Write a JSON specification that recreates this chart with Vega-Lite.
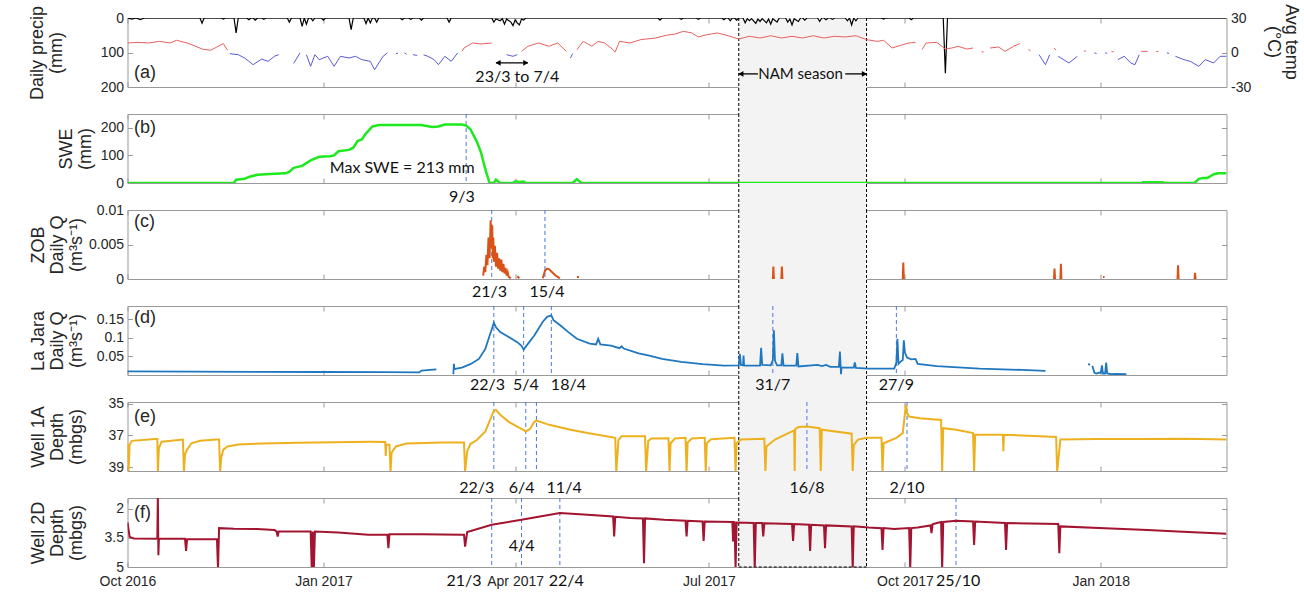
{
"$schema": "https://vega.github.io/schema/vega-lite/v6.json",
"padding": {"left": 27.5, "top": 3, "right": 2, "bottom": 5},
"background": "white",
"config": {
 "view": {"stroke": null},
 "axis": {"tickSize": -5, "tickColor": "#999", "domainColor": "#999", "grid": false, "labelFont": "Liberation Sans", "labelFontSize": 14, "labelColor": "#262626", "titleFont": "Liberation Sans", "titleFontSize": 18, "titleLineHeight": 19, "titleFontWeight": "normal", "titleColor": "#262626", "labelFlush": false, "labelOverlap": false, "labelPadding": 9, "zindex": 1}
},
"spacing": 27,
"bounds": "flush",
"datasets": {
 "nam": [{"t": "2017-07-15", "t2": "2017-09-13"}],
 "namedges": [{"t": "2017-07-15"}, {"t": "2017-09-13"}],
 "events": [
  {"panel": "b", "t": "2017-03-09"},
  {"panel": "c", "t": "2017-03-21"}, {"panel": "c", "t": "2017-04-15"},
  {"panel": "d", "t": "2017-03-22"}, {"panel": "d", "t": "2017-04-05"}, {"panel": "d", "t": "2017-04-18"}, {"panel": "d", "t": "2017-07-31"}, {"panel": "d", "t": "2017-09-27"},
  {"panel": "e", "t": "2017-03-22"}, {"panel": "e", "t": "2017-04-06"}, {"panel": "e", "t": "2017-04-11"}, {"panel": "e", "t": "2017-08-16"}, {"panel": "e", "t": "2017-10-02"},
  {"panel": "f", "t": "2017-03-21"}, {"panel": "f", "t": "2017-04-04"}, {"panel": "f", "t": "2017-04-22"}, {"panel": "f", "t": "2017-10-25"}
 ],
 "labels": [
  {"panel": "b", "t": "2017-03-07", "label": "9/3"},
  {"panel": "c", "t": "2017-03-20", "label": "21/3"}, {"panel": "c", "t": "2017-04-16", "label": "15/4"},
  {"panel": "d", "t": "2017-03-19", "label": "22/3"}, {"panel": "d", "t": "2017-04-06", "label": "5/4"}, {"panel": "d", "t": "2017-04-26", "label": "18/4"}, {"panel": "d", "t": "2017-07-31", "label": "31/7"}, {"panel": "d", "t": "2017-09-27", "label": "27/9"},
  {"panel": "e", "t": "2017-03-14", "label": "22/3"}, {"panel": "e", "t": "2017-04-04", "label": "6/4"}, {"panel": "e", "t": "2017-04-24", "label": "11/4"}, {"panel": "e", "t": "2017-08-16", "label": "16/8"}, {"panel": "e", "t": "2017-10-02", "label": "2/10"},
  {"panel": "f", "t": "2017-03-08", "label": "21/3"}, {"panel": "f", "t": "2017-04-25", "label": "22/4"}, {"panel": "f", "t": "2017-10-26", "label": "25/10"}
 ],
 "precip": [
  {"t":"2016-10-01","p":0},{"t":"2016-10-03","p":3},{"t":"2016-10-05","p":0},{"t":"2016-10-07","p":5},{"t":"2016-10-09","p":0},
  {"t":"2016-11-04","p":0},{"t":"2016-11-05","p":15},{"t":"2016-11-06","p":0},{"t":"2016-11-14","p":0},{"t":"2016-11-15","p":3},{"t":"2016-11-16","p":0},
  {"t":"2016-11-20","p":0},{"t":"2016-11-21","p":43},{"t":"2016-11-22","p":0},{"t":"2016-11-26","p":0},{"t":"2016-11-27","p":5},{"t":"2016-11-28","p":0},
  {"t":"2016-11-29","p":0},{"t":"2016-11-30","p":6},{"t":"2016-12-01","p":0},{"t":"2016-12-03","p":0},{"t":"2016-12-04","p":4},{"t":"2016-12-05","p":0},
  {"t":"2016-12-15","p":0},{"t":"2016-12-16","p":12},{"t":"2016-12-17","p":0},{"t":"2016-12-21","p":0},{"t":"2016-12-22","p":24},{"t":"2016-12-23","p":0},
  {"t":"2016-12-24","p":18},{"t":"2016-12-25","p":0},{"t":"2016-12-26","p":0},{"t":"2016-12-27","p":8},{"t":"2016-12-28","p":0},{"t":"2016-12-31","p":0},
  {"t":"2017-01-01","p":6},{"t":"2017-01-02","p":0},{"t":"2017-01-13","p":0},{"t":"2017-01-14","p":34},{"t":"2017-01-15","p":0},{"t":"2017-01-20","p":0},
  {"t":"2017-01-21","p":16},{"t":"2017-01-22","p":0},{"t":"2017-01-23","p":14},{"t":"2017-01-24","p":0},{"t":"2017-01-25","p":0},{"t":"2017-01-26","p":12},
  {"t":"2017-01-27","p":0},{"t":"2017-02-06","p":0},{"t":"2017-02-07","p":5},{"t":"2017-02-08","p":0},{"t":"2017-02-10","p":0},{"t":"2017-02-11","p":4},
  {"t":"2017-02-12","p":0},{"t":"2017-02-15","p":0},{"t":"2017-02-16","p":6},{"t":"2017-02-17","p":0},{"t":"2017-02-28","p":0},{"t":"2017-03-01","p":12},
  {"t":"2017-03-02","p":0},{"t":"2017-03-21","p":0},{"t":"2017-03-22","p":12},{"t":"2017-03-23","p":3},{"t":"2017-03-25","p":8},{"t":"2017-03-26","p":2},
  {"t":"2017-03-27","p":18},{"t":"2017-03-28","p":3},{"t":"2017-03-30","p":12},{"t":"2017-03-31","p":22},{"t":"2017-04-01","p":5},{"t":"2017-04-02","p":14},
  {"t":"2017-04-03","p":20},{"t":"2017-04-04","p":3},{"t":"2017-04-05","p":6},{"t":"2017-04-06","p":0},{"t":"2017-06-07","p":0},{"t":"2017-06-08","p":6},
  {"t":"2017-06-09","p":0},{"t":"2017-06-17","p":0},{"t":"2017-06-18","p":4},{"t":"2017-06-19","p":0},{"t":"2017-06-25","p":0},{"t":"2017-06-26","p":4},
  {"t":"2017-06-27","p":0},{"t":"2017-07-07","p":0},{"t":"2017-07-08","p":5},{"t":"2017-07-09","p":0},{"t":"2017-07-10","p":0},{"t":"2017-07-11","p":8},
  {"t":"2017-07-12","p":0},{"t":"2017-07-13","p":0},{"t":"2017-07-14","p":6},{"t":"2017-07-15","p":0},{"t":"2017-07-17","p":0},{"t":"2017-07-18","p":14},
  {"t":"2017-07-19","p":2},{"t":"2017-07-20","p":8},{"t":"2017-07-21","p":2},{"t":"2017-07-23","p":16},{"t":"2017-07-24","p":3},{"t":"2017-07-25","p":10},
  {"t":"2017-07-26","p":2},{"t":"2017-07-28","p":14},{"t":"2017-07-29","p":3},{"t":"2017-07-30","p":18},{"t":"2017-07-31","p":2},{"t":"2017-08-02","p":12},
  {"t":"2017-08-03","p":0},{"t":"2017-08-06","p":0},{"t":"2017-08-07","p":12},{"t":"2017-08-08","p":3},{"t":"2017-08-09","p":20},{"t":"2017-08-10","p":2},
  {"t":"2017-08-12","p":10},{"t":"2017-08-13","p":0},{"t":"2017-08-14","p":0},{"t":"2017-08-15","p":6},{"t":"2017-08-16","p":0},{"t":"2017-08-21","p":0},
  {"t":"2017-08-22","p":10},{"t":"2017-08-23","p":0},{"t":"2017-08-24","p":0},{"t":"2017-08-25","p":5},{"t":"2017-08-26","p":0},{"t":"2017-08-27","p":0},
  {"t":"2017-08-28","p":4},{"t":"2017-08-29","p":0},{"t":"2017-09-03","p":0},{"t":"2017-09-04","p":8},{"t":"2017-09-05","p":0},{"t":"2017-09-06","p":20},
  {"t":"2017-09-07","p":0},{"t":"2017-09-08","p":8},{"t":"2017-09-09","p":0},{"t":"2017-09-20","p":0},{"t":"2017-09-21","p":3},{"t":"2017-09-22","p":0},
  {"t":"2017-10-03","p":0},{"t":"2017-10-04","p":5},{"t":"2017-10-05","p":0},{"t":"2017-10-19","p":0},{"t":"2017-10-20","p":160},{"t":"2017-10-21","p":0},
  {"t":"2018-03-01","p":0}
 ],
 "temp": [
  {"t":"2016-10-01","tw":8.3},{"t":"2016-10-06","tw":8.8},{"t":"2016-10-11","tw":8.3},{"t":"2016-10-16","tw":9.7},{"t":"2016-10-21","tw":8.3},
  {"t":"2016-10-24","tw":10.6},{"t":"2016-10-29","tw":8.3},{"t":"2016-11-02","tw":5.4},{"t":"2016-11-05","tw":3.0},{"t":"2016-11-09","tw":1.9},
  {"t":"2016-11-12","tw":4.8},{"t":"2016-11-15","tw":7.7},{"t":"2016-11-17","tw":2.0},{"t":"2016-11-18","tc":-1.0},{"t":"2016-11-22","tc":-1.9},
  {"t":"2016-11-25","tc":-4.8},{"t":"2016-11-29","tc":-10.6},{"t":"2016-12-03","tc":-5.7},{"t":"2016-12-06","tc":-7.7},{"t":"2016-12-09","tc":-3.3},
  {"t":"2016-12-11","tc":-1.9},{"t":"2016-12-14"},{"t":"2016-12-18","tc":-9.5},{"t":"2016-12-21","tc":-0.4},{"t":"2016-12-22"},
  {"t":"2016-12-24","tc":-1.9},{"t":"2016-12-26","tc":-12},{"t":"2016-12-28","tc":-1.9},{"t":"2016-12-30","tc":-6.2},{"t":"2017-01-03","tc":-3.3},
  {"t":"2017-01-06","tc":-12},{"t":"2017-01-09","tc":-3.3},{"t":"2017-01-13","tc":-4.8},{"t":"2017-01-16","tc":-3.3},{"t":"2017-01-19","tc":-6.2},
  {"t":"2017-01-23","tc":-7.7},{"t":"2017-01-25","tc":-15},{"t":"2017-01-29","tc":-3.3},{"t":"2017-01-31","tc":-0.4},{"t":"2017-02-02"},
  {"t":"2017-02-04","tc":-1.0},{"t":"2017-02-05","tc":-0.5},{"t":"2017-02-06"},{"t":"2017-02-08","tc":-0.4},{"t":"2017-02-09","tc":-1.5},{"t":"2017-02-10"},
  {"t":"2017-02-12","tc":-1.9},{"t":"2017-02-14","tc":-2.5},{"t":"2017-02-15"},{"t":"2017-02-17","tc":-2.0},{"t":"2017-02-19","tc":-3.3},
  {"t":"2017-02-22","tc":-6.2},{"t":"2017-02-24","tc":-10.6},{"t":"2017-02-27","tc":-3.3},{"t":"2017-03-02","tc":-7.7},{"t":"2017-03-05","tc":-0.4},
  {"t":"2017-03-07","tw":1.0},{"t":"2017-03-08","tw":3.9},{"t":"2017-03-12","tw":8.3},{"t":"2017-03-16","tw":7.4},{"t":"2017-03-21","tw":8.3},
  {"t":"2017-03-22"},{"t":"2017-03-25","tc":-0.5},{"t":"2017-03-26"},{"t":"2017-03-28","tc":-1.9},{"t":"2017-03-31","tc":-3.3},{"t":"2017-04-02","tc":-1.9},
  {"t":"2017-04-04","tw":1.0},{"t":"2017-04-07","tw":5.4},{"t":"2017-04-12","tw":8.3},{"t":"2017-04-17","tw":5.4},{"t":"2017-04-21","tw":8.3},
  {"t":"2017-04-25","tw":1.0},{"t":"2017-04-27","tc":-4.8},{"t":"2017-04-28","tc":-1.0},{"t":"2017-04-30","tw":2.5},{"t":"2017-05-03","tw":9.7},
  {"t":"2017-05-07","tw":5.4},{"t":"2017-05-10","tw":9.7},{"t":"2017-05-13","tw":8.3},{"t":"2017-05-16","tw":4.0},{"t":"2017-05-18","tw":0.5},
  {"t":"2017-05-20","tw":9.7},{"t":"2017-05-25","tw":8.3},{"t":"2017-05-30","tw":11.2},{"t":"2017-06-06","tw":12.6},{"t":"2017-06-11","tw":15},
  {"t":"2017-06-15","tw":16},{"t":"2017-06-19","tw":18.4},{"t":"2017-06-23","tw":17},{"t":"2017-06-26","tw":13.5},{"t":"2017-06-30","tw":15.5},
  {"t":"2017-07-05","tw":17},{"t":"2017-07-10","tw":14.6},{"t":"2017-07-15","tw":11.7},{"t":"2017-07-20","tw":14.1},{"t":"2017-07-25","tw":12.6},
  {"t":"2017-07-30","tw":14.6},{"t":"2017-08-04","tw":12.6},{"t":"2017-08-09","tw":14.1},{"t":"2017-08-14","tw":12.6},{"t":"2017-08-19","tw":14.6},
  {"t":"2017-08-24","tw":12.6},{"t":"2017-08-29","tw":14.1},{"t":"2017-09-03","tw":13.5},{"t":"2017-09-08","tw":14.6},{"t":"2017-09-13","tw":11.2},
  {"t":"2017-09-18","tw":9.7},{"t":"2017-09-21","tw":10.6},{"t":"2017-09-25","tw":3.9},{"t":"2017-09-30","tw":6.8},{"t":"2017-10-03","tw":8.3},
  {"t":"2017-10-06","tw":8.8},{"t":"2017-10-07"},{"t":"2017-10-09","tw":2.5},{"t":"2017-10-11","tw":8.3},{"t":"2017-10-16","tw":8.8},
  {"t":"2017-10-20","tw":3.0},{"t":"2017-10-23","tw":3.9},{"t":"2017-10-26","tw":5.4},{"t":"2017-10-30","tw":3.0},{"t":"2017-11-02","tw":3.9},
  {"t":"2017-11-04"},{"t":"2017-11-06","tw":0.4},{"t":"2017-11-07","tw":0.6},{"t":"2017-11-08"},{"t":"2017-11-10","tw":3.9},{"t":"2017-11-14","tw":4.8},
  {"t":"2017-11-17","tw":1.0},{"t":"2017-11-21","tw":5.4},{"t":"2017-11-24","tw":7.7},{"t":"2017-11-25"},{"t":"2017-11-28","tw":2.5},{"t":"2017-11-29","tw":1.5},
  {"t":"2017-12-01"},{"t":"2017-12-03","tc":-1.9},{"t":"2017-12-06","tc":-10.6},{"t":"2017-12-08","tc":-1.9},{"t":"2017-12-10","tw":3.9},{"t":"2017-12-11","tw":2.0},
  {"t":"2017-12-12","tc":-3.3},{"t":"2017-12-17","tc":-9.1},{"t":"2017-12-21","tc":-3.3},{"t":"2017-12-24","tw":1.0},{"t":"2017-12-25","tw":1.5},
  {"t":"2017-12-26"},{"t":"2017-12-29","tc":-0.4},{"t":"2017-12-30","tc":-0.8},{"t":"2017-12-31"},{"t":"2018-01-03","tc":-0.4},{"t":"2018-01-04","tc":-0.6},
  {"t":"2018-01-05"},{"t":"2018-01-06","tw":1.0},{"t":"2018-01-07","tw":0.5},{"t":"2018-01-09","tc":-6.2},{"t":"2018-01-12","tc":-3.3},
  {"t":"2018-01-15","tc":-9.1},{"t":"2018-01-17","tc":-10.6},{"t":"2018-01-19","tc":-2.0},{"t":"2018-01-20","tw":1.0},{"t":"2018-01-23","tw":1.0},
  {"t":"2018-01-24"},{"t":"2018-01-27","tw":1.0},{"t":"2018-01-28","tw":0.8},{"t":"2018-01-29"},{"t":"2018-02-01","tc":-0.4},{"t":"2018-02-02","tc":-0.8},
  {"t":"2018-02-03"},{"t":"2018-02-05","tc":-3.3},{"t":"2018-02-09","tc":-6.2},{"t":"2018-02-12","tc":-7.7},{"t":"2018-02-16","tc":-12},
  {"t":"2018-02-19","tc":-6.2},{"t":"2018-02-23","tc":-9.1},{"t":"2018-02-26","tc":-3.3},{"t":"2018-03-01","tc":-3.3}
 ],
 "swe": [
  {"t":"2016-10-01","s":0},{"t":"2016-11-20","s":0},{"t":"2016-11-21","s":12},{"t":"2016-11-25","s":15},{"t":"2016-11-27","s":22},{"t":"2016-12-01","s":30},
  {"t":"2016-12-07","s":33},{"t":"2016-12-14","s":35},{"t":"2016-12-16","s":40},{"t":"2016-12-18","s":55},{"t":"2016-12-22","s":62},{"t":"2016-12-26","s":82},
  {"t":"2016-12-30","s":95},{"t":"2017-01-04","s":97},{"t":"2017-01-06","s":100},{"t":"2017-01-08","s":115},{"t":"2017-01-13","s":120},{"t":"2017-01-15","s":128},
  {"t":"2017-01-17","s":152},{"t":"2017-01-19","s":158},{"t":"2017-01-21","s":180},{"t":"2017-01-24","s":205},{"t":"2017-01-27","s":210},{"t":"2017-02-16","s":210},
  {"t":"2017-02-21","s":203},{"t":"2017-02-24","s":205},{"t":"2017-02-27","s":212},{"t":"2017-03-07","s":212},{"t":"2017-03-09","s":208},{"t":"2017-03-11","s":195},
  {"t":"2017-03-14","s":150},{"t":"2017-03-16","s":110},{"t":"2017-03-18","s":50},{"t":"2017-03-20","s":0},{"t":"2017-03-22","s":0},{"t":"2017-03-23","s":12},
  {"t":"2017-03-25","s":0},{"t":"2017-03-31","s":0},{"t":"2017-04-01","s":6},{"t":"2017-04-03","s":4},{"t":"2017-04-05","s":5},{"t":"2017-04-06","s":0},
  {"t":"2017-04-28","s":0},{"t":"2017-04-30","s":14},{"t":"2017-05-02","s":0},{"t":"2018-01-20","s":0},{"t":"2018-01-21","s":3},{"t":"2018-01-30","s":3},
  {"t":"2018-01-31","s":0},{"t":"2018-02-14","s":0},{"t":"2018-02-16","s":15},{"t":"2018-02-18","s":18},{"t":"2018-02-20","s":18},{"t":"2018-02-23","s":32},
  {"t":"2018-02-25","s":35},{"t":"2018-03-01","s":35}
 ],
 "zob": [
  {"t":"2017-03-17T00:00Z","q":0.0005},{"t":"2017-03-17T12:00Z","q":0.0018},{"t":"2017-03-18T00:00Z","q":0.001},{"t":"2017-03-18T12:00Z","q":0.0035},
  {"t":"2017-03-19T00:00Z","q":0.002},{"t":"2017-03-19T12:00Z","q":0.006},{"t":"2017-03-20T00:00Z","q":0.003},{"t":"2017-03-20T12:00Z","q":0.0085},
  {"t":"2017-03-21T00:00Z","q":0.0045},{"t":"2017-03-21T06:00Z","q":0.0078},{"t":"2017-03-21T12:00Z","q":0.003},{"t":"2017-03-21T18:00Z","q":0.006},
  {"t":"2017-03-22T00:00Z","q":0.0025},{"t":"2017-03-22T12:00Z","q":0.0048},{"t":"2017-03-23T00:00Z","q":0.0018},{"t":"2017-03-23T12:00Z","q":0.0038},
  {"t":"2017-03-24T00:00Z","q":0.0015},{"t":"2017-03-24T12:00Z","q":0.003},{"t":"2017-03-25T00:00Z","q":0.0012},{"t":"2017-03-25T12:00Z","q":0.0028},
  {"t":"2017-03-26T00:00Z","q":0.001},{"t":"2017-03-26T12:00Z","q":0.0022},{"t":"2017-03-27T00:00Z","q":0.0008},{"t":"2017-03-27T12:00Z","q":0.0016},
  {"t":"2017-03-28T00:00Z","q":0.0005},{"t":"2017-03-28T12:00Z","q":0.001},{"t":"2017-03-29T00:00Z","q":0.0003},{"t":"2017-03-30T00:00Z","q":0.0001},
  {"t":"2017-03-31T00:00Z"},{"t":"2017-04-02T00:00Z","q":0.0004},{"t":"2017-04-03T00:00Z","q":0.0001},{"t":"2017-04-04T00:00Z"},
  {"t":"2017-04-14T00:00Z","q":0.0001},{"t":"2017-04-15T00:00Z","q":0.0012},{"t":"2017-04-16T00:00Z","q":0.0015},{"t":"2017-04-17T00:00Z","q":0.0014},
  {"t":"2017-04-18T00:00Z","q":0.0011},{"t":"2017-04-19T00:00Z","q":0.0008},{"t":"2017-04-20T00:00Z","q":0.0005},{"t":"2017-04-21T00:00Z","q":0.0003},
  {"t":"2017-04-22T00:00Z","q":0.0001},{"t":"2017-04-23T00:00Z"},{"t":"2017-04-30T00:00Z","q":0.0003},{"t":"2017-05-01T00:00Z","q":0.0003},{"t":"2017-05-02T00:00Z"},
  {"t":"2017-07-31T00:00Z","q":0},{"t":"2017-07-31T06:00Z","q":0.0018},{"t":"2017-07-31T12:00Z","q":0},{"t":"2017-08-01T00:00Z"},
  {"t":"2017-08-04T00:00Z","q":0},{"t":"2017-08-04T06:00Z","q":0.0018},{"t":"2017-08-04T12:00Z","q":0},{"t":"2017-08-05T00:00Z"},
  {"t":"2017-09-30T00:00Z","q":0},{"t":"2017-09-30T06:00Z","q":0.0024},{"t":"2017-09-30T12:00Z","q":0},{"t":"2017-10-01T00:00Z"},
  {"t":"2017-12-10T00:00Z","q":0},{"t":"2017-12-10T06:00Z","q":0.0015},{"t":"2017-12-10T12:00Z","q":0},{"t":"2017-12-11T00:00Z"},
  {"t":"2017-12-13T00:00Z","q":0},{"t":"2017-12-13T06:00Z","q":0.0022},{"t":"2017-12-13T12:00Z","q":0},{"t":"2017-12-14T00:00Z"},
  {"t":"2018-01-02T00:00Z","q":0.0003},{"t":"2018-01-02T18:00Z","q":0.0003},{"t":"2018-01-03T00:00Z"},
  {"t":"2018-02-06T00:00Z","q":0},{"t":"2018-02-06T06:00Z","q":0.002},{"t":"2018-02-06T12:00Z","q":0},{"t":"2018-02-07T00:00Z"},
  {"t":"2018-02-14T00:00Z","q":0},{"t":"2018-02-14T06:00Z","q":0.0009},{"t":"2018-02-14T12:00Z","q":0}
 ],
 "lajara": [
  {"t":"2016-10-01","q":0.0095},{"t":"2016-10-31","q":0.009},{"t":"2016-11-30","q":0.0085},{"t":"2017-01-01","q":0.008},{"t":"2017-01-29","q":0.0075},
  {"t":"2017-02-15","q":0.0072},{"t":"2017-02-16","q":0.012},{"t":"2017-02-23","q":0.015},{"t":"2017-02-24"},
  {"t":"2017-03-03T00:00Z","q":0.002},{"t":"2017-03-03T06:00Z","q":0.03},{"t":"2017-03-03T12:00Z","q":0.016},{"t":"2017-03-05","q":0.018},
  {"t":"2017-03-07","q":0.02},{"t":"2017-03-11","q":0.029},{"t":"2017-03-15","q":0.043},{"t":"2017-03-18","q":0.07},{"t":"2017-03-20","q":0.105},
  {"t":"2017-03-21","q":0.122},{"t":"2017-03-22","q":0.14},{"t":"2017-03-23","q":0.128},{"t":"2017-03-25","q":0.115},{"t":"2017-03-29","q":0.102},
  {"t":"2017-04-02","q":0.088},{"t":"2017-04-04","q":0.078},{"t":"2017-04-05","q":0.068},{"t":"2017-04-06","q":0.076},{"t":"2017-04-10","q":0.106},
  {"t":"2017-04-14","q":0.143},{"t":"2017-04-16","q":0.156},{"t":"2017-04-18","q":0.16},{"t":"2017-04-19","q":0.147},{"t":"2017-04-22","q":0.134},
  {"t":"2017-04-26","q":0.115},{"t":"2017-04-30","q":0.097},{"t":"2017-05-06","q":0.084},{"t":"2017-05-09","q":0.082},{"t":"2017-05-10","q":0.097},
  {"t":"2017-05-11","q":0.082},{"t":"2017-05-16","q":0.079},{"t":"2017-05-20","q":0.072},{"t":"2017-05-21","q":0.077},{"t":"2017-05-22","q":0.071},
  {"t":"2017-05-29","q":0.058},{"t":"2017-06-03","q":0.052},{"t":"2017-06-09","q":0.043},{"t":"2017-06-18","q":0.035},{"t":"2017-06-28","q":0.029},
  {"t":"2017-07-08","q":0.025},{"t":"2017-07-15T00:00Z","q":0.026},{"t":"2017-07-15T12:00Z","q":0.056},{"t":"2017-07-16T00:00Z","q":0.027},
  {"t":"2017-07-17T00:00Z","q":0.026},{"t":"2017-07-17T06:00Z","q":0.052},{"t":"2017-07-17T12:00Z","q":0.025},{"t":"2017-07-25T00:00Z","q":0.025},
  {"t":"2017-07-25T12:00Z","q":0.073},{"t":"2017-07-26T00:00Z","q":0.027},{"t":"2017-07-30T00:00Z","q":0.026},{"t":"2017-07-31T00:00Z","q":0.04},
  {"t":"2017-07-31T12:00Z","q":0.12},{"t":"2017-08-01T00:00Z","q":0.038},{"t":"2017-08-02T00:00Z","q":0.026},{"t":"2017-08-04T00:00Z","q":0.026},
  {"t":"2017-08-04T12:00Z","q":0.058},{"t":"2017-08-05T00:00Z","q":0.025},{"t":"2017-08-11T00:00Z","q":0.025},{"t":"2017-08-11T12:00Z","q":0.059},
  {"t":"2017-08-12T00:00Z","q":0.023},{"t":"2017-08-21T00:00Z","q":0.027},{"t":"2017-08-23T00:00Z","q":0.024},{"t":"2017-08-25T00:00Z","q":0.027},
  {"t":"2017-08-27T00:00Z","q":0.022},{"t":"2017-08-31T00:00Z","q":0.022},{"t":"2017-08-31T12:00Z","q":0.063},{"t":"2017-09-01T00:00Z","q":0.002},
  {"t":"2017-09-01T06:00Z","q":0.02},{"t":"2017-09-07T00:00Z","q":0.02},{"t":"2017-09-07T12:00Z","q":0.034},{"t":"2017-09-08T00:00Z","q":0.019},
  {"t":"2017-09-14T00:00Z","q":0.017},{"t":"2017-09-26T00:00Z","q":0.017},{"t":"2017-09-27T00:00Z","q":0.033},{"t":"2017-09-27T12:00Z","q":0.097},
  {"t":"2017-09-28T00:00Z","q":0.03},{"t":"2017-09-29T00:00Z","q":0.036},{"t":"2017-09-30T00:00Z","q":0.04},{"t":"2017-09-30T12:00Z","q":0.093},
  {"t":"2017-10-01T00:00Z","q":0.06},{"t":"2017-10-02T00:00Z","q":0.047},{"t":"2017-10-04T00:00Z","q":0.042},{"t":"2017-10-06T00:00Z","q":0.043},
  {"t":"2017-10-07T00:00Z","q":0.03},{"t":"2017-10-16","q":0.024},{"t":"2017-11-05","q":0.017},{"t":"2017-11-25","q":0.0136},{"t":"2017-12-06","q":0.011},
  {"t":"2017-12-07"},{"t":"2017-12-26","q":0.029},{"t":"2017-12-27","q":0.028},{"t":"2017-12-27T12:00Z"},
  {"t":"2017-12-28","q":0.025},{"t":"2017-12-29","q":0.006},{"t":"2017-12-30","q":0.004},{"t":"2017-12-31","q":0.006},{"t":"2018-01-01","q":0.006},
  {"t":"2018-01-01T12:00Z","q":0.026},{"t":"2018-01-02","q":0.004},{"t":"2018-01-03","q":0.004},{"t":"2018-01-03T12:00Z","q":0.033},
  {"t":"2018-01-04","q":0.004},{"t":"2018-01-06","q":0.002},{"t":"2018-01-08","q":0.003},{"t":"2018-01-13","q":0.002}
 ],
 "well1a": [
  {"t":"2016-10-01T00:00Z","d":37.5},{"t":"2016-10-01T12:00Z","d":39.3},{"t":"2016-10-02T00:00Z","d":37.6},{"t":"2016-10-03","d":37.35},
  {"t":"2016-10-14","d":37.23},{"t":"2016-10-15T00:00Z","d":37.23},{"t":"2016-10-15T06:00Z","d":39.3},{"t":"2016-10-15T18:00Z","d":37.8},
  {"t":"2016-10-17","d":37.4},{"t":"2016-10-27T00:00Z","d":37.27},{"t":"2016-10-27T12:00Z","d":39.3},{"t":"2016-10-28T00:00Z","d":38.2},
  {"t":"2016-10-29","d":37.9},{"t":"2016-10-31","d":37.5},{"t":"2016-11-04","d":37.35},{"t":"2016-11-12","d":37.27},{"t":"2016-11-13T00:00Z","d":37.27},
  {"t":"2016-11-13T12:00Z","d":39.3},{"t":"2016-11-14T00:00Z","d":38.4},{"t":"2016-11-15","d":37.9},{"t":"2016-11-17","d":37.7},{"t":"2016-11-22","d":37.58},
  {"t":"2016-12-03","d":37.52},{"t":"2016-12-20","d":37.47},{"t":"2017-01-06","d":37.43},{"t":"2017-01-23","d":37.41},{"t":"2017-01-30T00:00Z","d":37.42},
  {"t":"2017-01-30T06:00Z","d":38.3},{"t":"2017-01-30T12:00Z","d":37.6},{"t":"2017-02-01T00:00Z","d":37.6},{"t":"2017-02-01T12:00Z","d":39.3},
  {"t":"2017-02-02T00:00Z","d":38.1},{"t":"2017-02-04","d":37.7},{"t":"2017-02-09","d":37.52},{"t":"2017-02-26","d":37.45},{"t":"2017-03-08T00:00Z","d":37.45},
  {"t":"2017-03-08T12:00Z","d":39.3},{"t":"2017-03-09T12:00Z","d":38.0},{"t":"2017-03-11","d":37.55},{"t":"2017-03-14","d":37.3},{"t":"2017-03-18","d":36.75},
  {"t":"2017-03-20","d":36.1},{"t":"2017-03-22","d":35.45},{"t":"2017-03-23","d":35.4},{"t":"2017-03-25","d":35.7},{"t":"2017-03-29","d":36.15},
  {"t":"2017-04-02","d":36.45},{"t":"2017-04-06","d":36.75},{"t":"2017-04-08","d":36.6},{"t":"2017-04-10","d":36.15},{"t":"2017-04-11","d":36.07},
  {"t":"2017-04-17","d":36.34},{"t":"2017-04-27","d":36.65},{"t":"2017-05-05","d":36.86},{"t":"2017-05-18T00:00Z","d":37.16},{"t":"2017-05-18T12:00Z","d":39.3},
  {"t":"2017-05-19T12:00Z","d":37.3},{"t":"2017-05-21","d":37.06},{"t":"2017-06-01T00:00Z","d":37.06},{"t":"2017-06-01T12:00Z","d":39.3},
  {"t":"2017-06-02T12:00Z","d":37.35},{"t":"2017-06-04","d":37.2},{"t":"2017-06-12T00:00Z","d":37.18},{"t":"2017-06-12T12:00Z","d":39.3},
  {"t":"2017-06-13T00:00Z","d":37.5},{"t":"2017-06-15","d":37.2},{"t":"2017-06-20T00:00Z","d":37.16},{"t":"2017-06-20T12:00Z","d":39.3},
  {"t":"2017-06-21T00:00Z","d":37.45},{"t":"2017-06-23","d":37.2},{"t":"2017-06-29T00:00Z","d":37.16},{"t":"2017-06-29T12:00Z","d":39.3},
  {"t":"2017-06-30T00:00Z","d":37.5},{"t":"2017-07-02","d":37.25},{"t":"2017-07-13T00:00Z","d":37.16},{"t":"2017-07-13T12:00Z","d":39.3},
  {"t":"2017-07-14T00:00Z","d":37.5},{"t":"2017-07-16","d":37.27},{"t":"2017-07-27T00:00Z","d":37.21},{"t":"2017-07-27T12:00Z","d":39.3},
  {"t":"2017-07-28T00:00Z","d":37.7},{"t":"2017-08-01","d":37.27},{"t":"2017-08-09","d":36.75},{"t":"2017-08-10T00:00Z","d":36.7},
  {"t":"2017-08-10T06:00Z","d":39.3},{"t":"2017-08-10T12:00Z","d":36.6},{"t":"2017-08-12","d":36.48},{"t":"2017-08-16","d":36.44},
  {"t":"2017-08-22T00:00Z","d":36.55},{"t":"2017-08-22T12:00Z","d":39.3},{"t":"2017-08-23T00:00Z","d":36.65},{"t":"2017-09-06T00:00Z","d":36.9},
  {"t":"2017-09-06T12:00Z","d":39.3},{"t":"2017-09-07T00:00Z","d":37.6},{"t":"2017-09-09","d":37.27},{"t":"2017-09-13","d":37.16},
  {"t":"2017-09-20T00:00Z","d":37.16},{"t":"2017-09-20T12:00Z","d":39.3},{"t":"2017-09-21T00:00Z","d":37.5},{"t":"2017-09-27","d":37.16},
  {"t":"2017-09-30","d":36.86},{"t":"2017-10-01T12:00Z","d":35.05},{"t":"2017-10-02","d":35.6},{"t":"2017-10-03","d":35.82},{"t":"2017-10-08","d":35.93},
  {"t":"2017-10-18T00:00Z","d":36.03},{"t":"2017-10-18T12:00Z","d":39.3},{"t":"2017-10-19T00:00Z","d":36.55},{"t":"2017-10-25","d":36.65},
  {"t":"2017-11-02T00:00Z","d":36.86},{"t":"2017-11-02T12:00Z","d":39.3},{"t":"2017-11-03T00:00Z","d":36.96},{"t":"2017-11-16T00:00Z","d":36.96},
  {"t":"2017-11-16T06:00Z","d":38.0},{"t":"2017-11-16T12:00Z","d":36.96},{"t":"2017-11-28","d":37.02},{"t":"2017-12-11T00:00Z","d":37.1},
  {"t":"2017-12-11T12:00Z","d":39.3},{"t":"2017-12-13T00:00Z","d":37.27},{"t":"2017-12-30","d":37.23},{"t":"2018-01-20","d":37.23},
  {"t":"2018-02-10","d":37.21},{"t":"2018-03-01","d":37.27}
 ],
 "well2d": [
  {"t":"2016-10-01","d":2.7},{"t":"2016-10-02","d":3.45},{"t":"2016-10-04","d":3.53},{"t":"2016-10-15T00:00Z","d":3.55},{"t":"2016-10-15T06:00Z","d":1.3},
  {"t":"2016-10-15T12:00Z","d":4.4},{"t":"2016-10-15T18:00Z","d":3.55},{"t":"2016-10-28T00:00Z","d":3.55},{"t":"2016-10-28T12:00Z","d":4.17},
  {"t":"2016-10-29T00:00Z","d":3.57},{"t":"2016-11-12T00:00Z","d":3.57},{"t":"2016-11-12T12:00Z","d":5.1},{"t":"2016-11-13T00:00Z","d":3.0},
  {"t":"2016-11-20","d":3.03},{"t":"2016-12-01","d":3.05},{"t":"2016-12-09","d":3.1},{"t":"2016-12-10T00:00Z","d":3.17},{"t":"2016-12-10T12:00Z","d":3.43},
  {"t":"2016-12-11T00:00Z","d":3.17},{"t":"2016-12-26T00:00Z","d":3.17},{"t":"2016-12-26T12:00Z","d":5.1},{"t":"2016-12-27T00:00Z","d":3.17},
  {"t":"2016-12-27T12:00Z","d":5.1},{"t":"2016-12-28T00:00Z","d":3.17},{"t":"2017-01-08","d":3.22},{"t":"2017-01-22","d":3.34},{"t":"2017-01-31T00:00Z","d":3.34},
  {"t":"2017-01-31T12:00Z","d":4.03},{"t":"2017-02-01T00:00Z","d":3.31},{"t":"2017-02-16","d":3.31},{"t":"2017-03-07","d":3.34},{"t":"2017-03-08T00:00Z","d":3.34},
  {"t":"2017-03-08T12:00Z","d":3.95},{"t":"2017-03-09T12:00Z","d":3.2},{"t":"2017-03-21","d":2.83},{"t":"2017-04-04","d":2.57},{"t":"2017-04-22","d":2.22},
  {"t":"2017-05-05","d":2.31},{"t":"2017-05-17T00:00Z","d":2.4},{"t":"2017-05-17T12:00Z","d":3.43},{"t":"2017-05-18T00:00Z","d":2.42},{"t":"2017-05-25","d":2.48},
  {"t":"2017-05-31T00:00Z","d":2.5},{"t":"2017-05-31T12:00Z","d":4.81},{"t":"2017-06-01T00:00Z","d":2.5},{"t":"2017-06-10","d":2.57},
  {"t":"2017-06-20T00:00Z","d":2.62},{"t":"2017-06-20T12:00Z","d":3.43},{"t":"2017-06-21T00:00Z","d":2.62},{"t":"2017-06-28T00:00Z","d":2.66},
  {"t":"2017-06-28T12:00Z","d":3.66},{"t":"2017-06-29T00:00Z","d":2.66},{"t":"2017-07-12T00:00Z","d":2.69},{"t":"2017-07-12T08:00Z","d":3.69},
  {"t":"2017-07-12T16:00Z","d":2.69},{"t":"2017-07-13T00:00Z","d":2.7},{"t":"2017-07-13T12:00Z","d":5.1},{"t":"2017-07-14T00:00Z","d":2.71},
  {"t":"2017-07-22T00:00Z","d":2.74},{"t":"2017-07-22T12:00Z","d":5.1},{"t":"2017-07-23T00:00Z","d":2.74},{"t":"2017-07-26T00:00Z","d":2.74},
  {"t":"2017-07-26T12:00Z","d":3.43},{"t":"2017-07-27T00:00Z","d":2.75},{"t":"2017-08-09T00:00Z","d":2.79},{"t":"2017-08-09T12:00Z","d":3.66},
  {"t":"2017-08-10T00:00Z","d":2.79},{"t":"2017-08-17T00:00Z","d":2.83},{"t":"2017-08-17T12:00Z","d":4.17},{"t":"2017-08-18T00:00Z","d":2.83},
  {"t":"2017-08-24T00:00Z","d":2.86},{"t":"2017-08-24T12:00Z","d":4.03},{"t":"2017-08-25T00:00Z","d":2.86},{"t":"2017-09-06T00:00Z","d":2.91},
  {"t":"2017-09-06T12:00Z","d":5.1},{"t":"2017-09-07T00:00Z","d":2.91},{"t":"2017-09-14","d":2.97},{"t":"2017-09-20T00:00Z","d":3.0},
  {"t":"2017-09-20T12:00Z","d":4.12},{"t":"2017-09-21T00:00Z","d":3.0},{"t":"2017-09-26","d":3.05},{"t":"2017-10-03T00:00Z","d":3.0},
  {"t":"2017-10-03T12:00Z","d":5.1},{"t":"2017-10-04T00:00Z","d":3.0},{"t":"2017-10-07","d":2.97},{"t":"2017-10-13T00:00Z","d":2.86},
  {"t":"2017-10-13T12:00Z","d":3.26},{"t":"2017-10-14T00:00Z","d":2.8},{"t":"2017-10-16","d":2.74},{"t":"2017-10-18T00:00Z","d":2.69},
  {"t":"2017-10-18T12:00Z","d":5.1},{"t":"2017-10-19T00:00Z","d":2.68},{"t":"2017-10-25","d":2.62},{"t":"2017-11-02T00:00Z","d":2.66},
  {"t":"2017-11-02T12:00Z","d":3.86},{"t":"2017-11-03T00:00Z","d":2.66},{"t":"2017-11-17T00:00Z","d":2.74},{"t":"2017-11-17T12:00Z","d":4.12},
  {"t":"2017-11-18T00:00Z","d":2.74},{"t":"2017-12-12T00:00Z","d":2.79},{"t":"2017-12-12T12:00Z","d":4.29},{"t":"2017-12-13T00:00Z","d":2.91},
  {"t":"2018-01-03","d":3.0},{"t":"2018-01-23","d":3.09},{"t":"2018-02-06","d":3.17},{"t":"2018-03-01","d":3.29}
 ]
},
"vconcat": [
 {
  "width": 1099, "height": 69,
  "resolve": {"scale": {"y": "independent"}},
  "layer": [
   {"data": {"name": "nam"}, "mark": {"type": "rect", "color": "#f3f3f3", "clip": false},
    "encoding": {"x": {"field": "t", "type": "temporal", "scale": {"type": "utc", "domain": [{"year": 2016, "month": 10, "date": 1, "utc": true}, {"year": 2018, "month": 3, "date": 1, "utc": true}]}, "axis": null}, "x2": {"field": "t2"},
     "y": {"datum": 0, "type": "quantitative", "scale": {"domain": [0, 200], "reverse": true, "nice": false}, "axis": null}, "y2": {"datum": 278.3}}},
   {"data": {"name": "namedges"}, "mark": {"type": "rule", "color": "#000", "strokeDash": [3, 2], "strokeWidth": 1, "clip": false},
    "encoding": {"x": {"field": "t", "type": "temporal", "scale": {"type": "utc", "domain": [{"year": 2016, "month": 10, "date": 1, "utc": true}, {"year": 2018, "month": 3, "date": 1, "utc": true}]},
      "axis": {"orient": "top", "labels": false, "title": null, "values": [{"year": 2016, "month": 10, "date": 1, "utc": true}, {"year": 2017, "month": 1, "date": 1, "utc": true}, {"year": 2017, "month": 4, "date": 1, "utc": true}, {"year": 2017, "month": 7, "date": 1, "utc": true}, {"year": 2017, "month": 10, "date": 1, "utc": true}, {"year": 2018, "month": 1, "date": 1, "utc": true}]}},
     "y": {"datum": 0, "type": "quantitative", "scale": {"domain": [0, 200], "reverse": true, "nice": false}, "axis": null}, "y2": {"datum": 278.3}}},
   {"data": {"name": "precip"}, "mark": {"type": "line", "color": "#000", "strokeWidth": 1.2, "clip": true},
    "encoding": {"x": {"field": "t", "type": "temporal", "scale": {"type": "utc", "domain": [{"year": 2016, "month": 10, "date": 1, "utc": true}, {"year": 2018, "month": 3, "date": 1, "utc": true}]},
      "axis": {"orient": "bottom", "labels": false, "title": null, "values": [{"year": 2016, "month": 10, "date": 1, "utc": true}, {"year": 2017, "month": 1, "date": 1, "utc": true}, {"year": 2017, "month": 4, "date": 1, "utc": true}, {"year": 2017, "month": 7, "date": 1, "utc": true}, {"year": 2017, "month": 10, "date": 1, "utc": true}, {"year": 2018, "month": 1, "date": 1, "utc": true}]}},
     "y": {"field": "p", "type": "quantitative", "scale": {"domain": [0, 200], "reverse": true, "nice": false}, "axis": {"orient": "left", "values": [0, 100, 200], "labelExpr": "toString(datum.value)", "title": ["Daily precip", "(mm)"], "titleX": -81.5}}}},
   {"data": {"name": "temp"}, "mark": {"type": "line", "color": "#e8605e", "strokeWidth": 1, "clip": true},
    "encoding": {"x": {"field": "t", "type": "temporal", "scale": {"type": "utc", "domain": [{"year": 2016, "month": 10, "date": 1, "utc": true}, {"year": 2018, "month": 3, "date": 1, "utc": true}]}, "axis": null},
     "y": {"field": "tw", "type": "quantitative", "scale": {"domain": [-30, 30], "nice": false}, "axis": {"orient": "right", "values": [-30, 0, 30], "labelExpr": "toString(datum.value)", "title": ["Avg temp", "(°C)"], "titleAngle": 90, "titleX": 54.5, "titleY": 23.5, "titleLineHeight": 18}}}},
   {"data": {"name": "temp"}, "mark": {"type": "line", "color": "#5a5ad6", "strokeWidth": 1, "clip": true},
    "encoding": {"x": {"field": "t", "type": "temporal", "scale": {"type": "utc", "domain": [{"year": 2016, "month": 10, "date": 1, "utc": true}, {"year": 2018, "month": 3, "date": 1, "utc": true}]}, "axis": null},
     "y": {"field": "tc", "type": "quantitative", "scale": {"domain": [-30, 30], "nice": false}, "axis": null}}},
   {"data": {"values": [{"t": "2017-03-23", "t2": "2017-04-07"}]}, "mark": {"type": "rule", "color": "#000", "strokeWidth": 1.3},
    "encoding": {"x": {"field": "t", "type": "temporal", "scale": {"type": "utc", "domain": [{"year": 2016, "month": 10, "date": 1, "utc": true}, {"year": 2018, "month": 3, "date": 1, "utc": true}]}, "axis": null}, "x2": {"field": "t2"},
     "y": {"datum": 130, "type": "quantitative", "scale": {"domain": [0, 200], "reverse": true, "nice": false}, "axis": null}}},
   {"data": {"values": [{"t": "2017-07-15", "t2": "2017-07-24"}, {"t": "2017-09-03", "t2": "2017-09-13"}]}, "mark": {"type": "rule", "color": "#000", "strokeWidth": 1.3},
    "encoding": {"x": {"field": "t", "type": "temporal", "scale": {"type": "utc", "domain": [{"year": 2016, "month": 10, "date": 1, "utc": true}, {"year": 2018, "month": 3, "date": 1, "utc": true}]}, "axis": null}, "x2": {"field": "t2"},
     "y": {"datum": 162, "type": "quantitative", "scale": {"domain": [0, 200], "reverse": true, "nice": false}, "axis": null}}},
   {"data": {"values": [{"t": "2017-03-24", "dir": "l"}, {"t": "2017-04-06", "dir": "r"}]}, "mark": {"type": "point", "filled": true, "color": "#000", "size": 35, "opacity": 1},
    "encoding": {"x": {"field": "t", "type": "temporal", "scale": {"type": "utc", "domain": [{"year": 2016, "month": 10, "date": 1, "utc": true}, {"year": 2018, "month": 3, "date": 1, "utc": true}]}, "axis": null},
     "y": {"datum": 130, "type": "quantitative", "scale": {"domain": [0, 200], "reverse": true, "nice": false}, "axis": null},
     "shape": {"field": "dir", "type": "nominal", "scale": {"domain": ["l", "r"], "range": ["triangle-left", "triangle-right"]}, "legend": null}}},
   {"data": {"values": [{"t": "2017-07-16", "dir": "l"}, {"t": "2017-09-12", "dir": "r"}]}, "mark": {"type": "point", "filled": true, "color": "#000", "size": 35, "opacity": 1},
    "encoding": {"x": {"field": "t", "type": "temporal", "scale": {"type": "utc", "domain": [{"year": 2016, "month": 10, "date": 1, "utc": true}, {"year": 2018, "month": 3, "date": 1, "utc": true}]}, "axis": null},
     "y": {"datum": 162, "type": "quantitative", "scale": {"domain": [0, 200], "reverse": true, "nice": false}, "axis": null},
     "shape": {"field": "dir", "type": "nominal", "scale": {"domain": ["l", "r"], "range": ["triangle-left", "triangle-right"]}, "legend": null}}},
   {"data": {"values": [{"t": "2017-04-02", "label": "23/3 to 7/4"}]}, "mark": {"type": "text", "font": "Lato", "fontSize": 16, "color": "#111", "baseline": "middle"},
    "encoding": {"x": {"field": "t", "type": "temporal", "scale": {"type": "utc", "domain": [{"year": 2016, "month": 10, "date": 1, "utc": true}, {"year": 2018, "month": 3, "date": 1, "utc": true}]}, "axis": null},
     "y": {"datum": 172, "type": "quantitative", "scale": {"domain": [0, 200], "reverse": true, "nice": false}, "axis": null}, "text": {"field": "label"}}},
   {"data": {"values": [{"t": "2017-08-13", "label": "NAM season"}]}, "mark": {"type": "text", "font": "Lato", "fontSize": 15, "color": "#111", "baseline": "middle"},
    "encoding": {"x": {"field": "t", "type": "temporal", "scale": {"type": "utc", "domain": [{"year": 2016, "month": 10, "date": 1, "utc": true}, {"year": 2018, "month": 3, "date": 1, "utc": true}]}, "axis": null},
     "y": {"datum": 162, "type": "quantitative", "scale": {"domain": [0, 200], "reverse": true, "nice": false}, "axis": null}, "text": {"field": "label"}}},
   {"data": {"values": [{"t": "2016-10-04", "label": "(a)"}]}, "mark": {"type": "text", "font": "Liberation Sans", "fontSize": 18, "color": "#262626", "align": "left", "baseline": "middle"},
    "encoding": {"x": {"field": "t", "type": "temporal", "scale": {"type": "utc", "domain": [{"year": 2016, "month": 10, "date": 1, "utc": true}, {"year": 2018, "month": 3, "date": 1, "utc": true}]}, "axis": null},
     "y": {"datum": 160, "type": "quantitative", "scale": {"domain": [0, 200], "reverse": true, "nice": false}, "axis": null}, "text": {"field": "label"}}}
  ]
 },
 {
  "width": 1099, "height": 69,
  "layer": [
   {"data": {"name": "nam"}, "mark": {"type": "rect", "color": "#f3f3f3", "clip": false},
    "encoding": {"x": {"field": "t", "type": "temporal", "scale": {"type": "utc", "domain": [{"year": 2016, "month": 10, "date": 1, "utc": true}, {"year": 2018, "month": 3, "date": 1, "utc": true}]}, "axis": null}, "x2": {"field": "t2"},
     "y": {"datum": 250, "type": "quantitative", "scale": {"domain": [0, 250], "nice": false}, "axis": null}, "y2": {"datum": -97.8}}},
   {"data": {"name": "namedges"}, "mark": {"type": "rule", "color": "#000", "strokeDash": [3, 2], "strokeWidth": 1, "clip": false},
    "encoding": {"x": {"field": "t", "type": "temporal", "scale": {"type": "utc", "domain": [{"year": 2016, "month": 10, "date": 1, "utc": true}, {"year": 2018, "month": 3, "date": 1, "utc": true}]},
      "axis": {"orient": "top", "labels": false, "title": null, "values": [{"year": 2016, "month": 10, "date": 1, "utc": true}, {"year": 2017, "month": 1, "date": 1, "utc": true}, {"year": 2017, "month": 4, "date": 1, "utc": true}, {"year": 2017, "month": 7, "date": 1, "utc": true}, {"year": 2017, "month": 10, "date": 1, "utc": true}, {"year": 2018, "month": 1, "date": 1, "utc": true}]}},
     "y": {"datum": 250, "type": "quantitative", "scale": {"domain": [0, 250], "nice": false}, "axis": {"orient": "right", "labels": false, "title": null, "values": [0, 100, 200]}}, "y2": {"datum": -97.8}}},
   {"data": {"name": "events"}, "transform": [{"filter": "datum.panel === 'b'"}], "mark": {"type": "rule", "color": "#4a78e0", "strokeDash": [4, 3], "strokeWidth": 1},
    "encoding": {"x": {"field": "t", "type": "temporal", "scale": {"type": "utc", "domain": [{"year": 2016, "month": 10, "date": 1, "utc": true}, {"year": 2018, "month": 3, "date": 1, "utc": true}]}, "axis": null}}},
   {"data": {"name": "swe"}, "mark": {"type": "line", "color": "#1ee81e", "strokeWidth": 2.5, "clip": true},
    "encoding": {"x": {"field": "t", "type": "temporal", "scale": {"type": "utc", "domain": [{"year": 2016, "month": 10, "date": 1, "utc": true}, {"year": 2018, "month": 3, "date": 1, "utc": true}]},
      "axis": {"orient": "bottom", "labels": false, "title": null, "values": [{"year": 2016, "month": 10, "date": 1, "utc": true}, {"year": 2017, "month": 1, "date": 1, "utc": true}, {"year": 2017, "month": 4, "date": 1, "utc": true}, {"year": 2017, "month": 7, "date": 1, "utc": true}, {"year": 2017, "month": 10, "date": 1, "utc": true}, {"year": 2018, "month": 1, "date": 1, "utc": true}]}},
     "y": {"field": "s", "type": "quantitative", "scale": {"domain": [0, 250], "nice": false}, "axis": {"orient": "left", "values": [0, 100, 200], "labelExpr": "toString(datum.value)", "title": ["SWE", "(mm)"], "titleX": -52.5}}}},
   {"data": {"name": "labels"}, "transform": [{"filter": "datum.panel === 'b'"}], "mark": {"type": "text", "font": "Lato", "fontSize": 16, "color": "#111", "baseline": "middle", "clip": false},
    "encoding": {"x": {"field": "t", "type": "temporal", "scale": {"type": "utc", "domain": [{"year": 2016, "month": 10, "date": 1, "utc": true}, {"year": 2018, "month": 3, "date": 1, "utc": true}]}, "axis": null},
     "y": {"datum": -50.7, "type": "quantitative", "scale": {"domain": [0, 250], "nice": false}, "axis": null}, "text": {"field": "label"}}},
   {"data": {"values": [{"t": "2017-02-07", "label": "Max SWE =  213 mm"}]}, "mark": {"type": "text", "font": "Lato", "fontSize": 16, "color": "#111", "baseline": "middle"},
    "encoding": {"x": {"field": "t", "type": "temporal", "scale": {"type": "utc", "domain": [{"year": 2016, "month": 10, "date": 1, "utc": true}, {"year": 2018, "month": 3, "date": 1, "utc": true}]}, "axis": null},
     "y": {"datum": 55, "type": "quantitative", "scale": {"domain": [0, 250], "nice": false}, "axis": null}, "text": {"field": "label"}}},
   {"data": {"values": [{"t": "2016-10-04", "label": "(b)"}]}, "mark": {"type": "text", "font": "Liberation Sans", "fontSize": 18, "color": "#262626", "align": "left", "baseline": "middle"},
    "encoding": {"x": {"field": "t", "type": "temporal", "scale": {"type": "utc", "domain": [{"year": 2016, "month": 10, "date": 1, "utc": true}, {"year": 2018, "month": 3, "date": 1, "utc": true}]}, "axis": null},
     "y": {"datum": 200, "type": "quantitative", "scale": {"domain": [0, 250], "nice": false}, "axis": null}, "text": {"field": "label"}}}
  ]
 },
 {
  "width": 1099, "height": 69,
  "layer": [
   {"data": {"name": "nam"}, "mark": {"type": "rect", "color": "#f3f3f3", "clip": false},
    "encoding": {"x": {"field": "t", "type": "temporal", "scale": {"type": "utc", "domain": [{"year": 2016, "month": 10, "date": 1, "utc": true}, {"year": 2018, "month": 3, "date": 1, "utc": true}]}, "axis": null}, "x2": {"field": "t2"},
     "y": {"datum": 0.01, "type": "quantitative", "scale": {"domain": [0, 0.01], "nice": false}, "axis": null}, "y2": {"datum": -0.003913}}},
   {"data": {"name": "namedges"}, "mark": {"type": "rule", "color": "#000", "strokeDash": [3, 2], "strokeWidth": 1, "clip": false},
    "encoding": {"x": {"field": "t", "type": "temporal", "scale": {"type": "utc", "domain": [{"year": 2016, "month": 10, "date": 1, "utc": true}, {"year": 2018, "month": 3, "date": 1, "utc": true}]},
      "axis": {"orient": "top", "labels": false, "title": null, "values": [{"year": 2016, "month": 10, "date": 1, "utc": true}, {"year": 2017, "month": 1, "date": 1, "utc": true}, {"year": 2017, "month": 4, "date": 1, "utc": true}, {"year": 2017, "month": 7, "date": 1, "utc": true}, {"year": 2017, "month": 10, "date": 1, "utc": true}, {"year": 2018, "month": 1, "date": 1, "utc": true}]}},
     "y": {"datum": 0.01, "type": "quantitative", "scale": {"domain": [0, 0.01], "nice": false}, "axis": {"orient": "right", "labels": false, "title": null, "values": [0, 0.005, 0.01]}}, "y2": {"datum": -0.003913}}},
   {"data": {"name": "events"}, "transform": [{"filter": "datum.panel === 'c'"}], "mark": {"type": "rule", "color": "#4a78e0", "strokeDash": [4, 3], "strokeWidth": 1},
    "encoding": {"x": {"field": "t", "type": "temporal", "scale": {"type": "utc", "domain": [{"year": 2016, "month": 10, "date": 1, "utc": true}, {"year": 2018, "month": 3, "date": 1, "utc": true}]}, "axis": null}}},
   {"data": {"name": "zob"}, "mark": {"type": "line", "color": "#D95319", "strokeWidth": 2, "clip": true},
    "encoding": {"x": {"field": "t", "type": "temporal", "scale": {"type": "utc", "domain": [{"year": 2016, "month": 10, "date": 1, "utc": true}, {"year": 2018, "month": 3, "date": 1, "utc": true}]},
      "axis": {"orient": "bottom", "labels": false, "title": null, "values": [{"year": 2016, "month": 10, "date": 1, "utc": true}, {"year": 2017, "month": 1, "date": 1, "utc": true}, {"year": 2017, "month": 4, "date": 1, "utc": true}, {"year": 2017, "month": 7, "date": 1, "utc": true}, {"year": 2017, "month": 10, "date": 1, "utc": true}, {"year": 2018, "month": 1, "date": 1, "utc": true}]}},
     "y": {"field": "q", "type": "quantitative", "scale": {"domain": [0, 0.01], "nice": false}, "axis": {"orient": "left", "values": [0, 0.005, 0.01], "labelExpr": "toString(datum.value)", "title": ["ZOB", "Daily Q", "(m³s⁻¹)"], "titleX": -80}}}},
   {"data": {"name": "labels"}, "transform": [{"filter": "datum.panel === 'c'"}], "mark": {"type": "text", "font": "Lato", "fontSize": 16, "color": "#111", "baseline": "middle", "clip": false},
    "encoding": {"x": {"field": "t", "type": "temporal", "scale": {"type": "utc", "domain": [{"year": 2016, "month": 10, "date": 1, "utc": true}, {"year": 2018, "month": 3, "date": 1, "utc": true}]}, "axis": null},
     "y": {"datum": -0.00188, "type": "quantitative", "scale": {"domain": [0, 0.01], "nice": false}, "axis": null}, "text": {"field": "label"}}},
   {"data": {"values": [{"t": "2016-10-04", "label": "(c)"}]}, "mark": {"type": "text", "font": "Liberation Sans", "fontSize": 18, "color": "#262626", "align": "left", "baseline": "middle"},
    "encoding": {"x": {"field": "t", "type": "temporal", "scale": {"type": "utc", "domain": [{"year": 2016, "month": 10, "date": 1, "utc": true}, {"year": 2018, "month": 3, "date": 1, "utc": true}]}, "axis": null},
     "y": {"datum": 0.0082, "type": "quantitative", "scale": {"domain": [0, 0.01], "nice": false}, "axis": null}, "text": {"field": "label"}}}
  ]
 },
 {
  "width": 1099, "height": 69,
  "layer": [
   {"data": {"name": "nam"}, "mark": {"type": "rect", "color": "#f3f3f3", "clip": false},
    "encoding": {"x": {"field": "t", "type": "temporal", "scale": {"type": "utc", "domain": [{"year": 2016, "month": 10, "date": 1, "utc": true}, {"year": 2018, "month": 3, "date": 1, "utc": true}]}, "axis": null}, "x2": {"field": "t2"},
     "y": {"datum": 0.185, "type": "quantitative", "scale": {"domain": [0, 0.185], "nice": false}, "axis": null}, "y2": {"datum": -0.0724}}},
   {"data": {"name": "namedges"}, "mark": {"type": "rule", "color": "#000", "strokeDash": [3, 2], "strokeWidth": 1, "clip": false},
    "encoding": {"x": {"field": "t", "type": "temporal", "scale": {"type": "utc", "domain": [{"year": 2016, "month": 10, "date": 1, "utc": true}, {"year": 2018, "month": 3, "date": 1, "utc": true}]},
      "axis": {"orient": "top", "labels": false, "title": null, "values": [{"year": 2016, "month": 10, "date": 1, "utc": true}, {"year": 2017, "month": 1, "date": 1, "utc": true}, {"year": 2017, "month": 4, "date": 1, "utc": true}, {"year": 2017, "month": 7, "date": 1, "utc": true}, {"year": 2017, "month": 10, "date": 1, "utc": true}, {"year": 2018, "month": 1, "date": 1, "utc": true}]}},
     "y": {"datum": 0.185, "type": "quantitative", "scale": {"domain": [0, 0.185], "nice": false}, "axis": {"orient": "right", "labels": false, "title": null, "values": [0.05, 0.1, 0.15]}}, "y2": {"datum": -0.0724}}},
   {"data": {"name": "events"}, "transform": [{"filter": "datum.panel === 'd'"}], "mark": {"type": "rule", "color": "#4a78e0", "strokeDash": [4, 3], "strokeWidth": 1},
    "encoding": {"x": {"field": "t", "type": "temporal", "scale": {"type": "utc", "domain": [{"year": 2016, "month": 10, "date": 1, "utc": true}, {"year": 2018, "month": 3, "date": 1, "utc": true}]}, "axis": null}}},
   {"data": {"name": "lajara"}, "mark": {"type": "line", "color": "#1f77c0", "strokeWidth": 1.8, "clip": true},
    "encoding": {"x": {"field": "t", "type": "temporal", "scale": {"type": "utc", "domain": [{"year": 2016, "month": 10, "date": 1, "utc": true}, {"year": 2018, "month": 3, "date": 1, "utc": true}]},
      "axis": {"orient": "bottom", "labels": false, "title": null, "values": [{"year": 2016, "month": 10, "date": 1, "utc": true}, {"year": 2017, "month": 1, "date": 1, "utc": true}, {"year": 2017, "month": 4, "date": 1, "utc": true}, {"year": 2017, "month": 7, "date": 1, "utc": true}, {"year": 2017, "month": 10, "date": 1, "utc": true}, {"year": 2018, "month": 1, "date": 1, "utc": true}]}},
     "y": {"field": "q", "type": "quantitative", "scale": {"domain": [0, 0.185], "nice": false}, "axis": {"orient": "left", "values": [0.05, 0.1, 0.15], "labelExpr": "toString(datum.value)", "title": ["La Jara", "Daily Q", "(m³s⁻¹)"], "titleX": -80}}}},
   {"data": {"name": "labels"}, "transform": [{"filter": "datum.panel === 'd'"}], "mark": {"type": "text", "font": "Lato", "fontSize": 16, "color": "#111", "baseline": "middle", "clip": false},
    "encoding": {"x": {"field": "t", "type": "temporal", "scale": {"type": "utc", "domain": [{"year": 2016, "month": 10, "date": 1, "utc": true}, {"year": 2018, "month": 3, "date": 1, "utc": true}]}, "axis": null},
     "y": {"datum": -0.0268, "type": "quantitative", "scale": {"domain": [0, 0.185], "nice": false}, "axis": null}, "text": {"field": "label"}}},
   {"data": {"values": [{"t": "2016-10-04", "label": "(d)"}]}, "mark": {"type": "text", "font": "Liberation Sans", "fontSize": 18, "color": "#262626", "align": "left", "baseline": "middle"},
    "encoding": {"x": {"field": "t", "type": "temporal", "scale": {"type": "utc", "domain": [{"year": 2016, "month": 10, "date": 1, "utc": true}, {"year": 2018, "month": 3, "date": 1, "utc": true}]}, "axis": null},
     "y": {"datum": 0.153, "type": "quantitative", "scale": {"domain": [0, 0.185], "nice": false}, "axis": null}, "text": {"field": "label"}}}
  ]
 },
 {
  "width": 1099, "height": 69,
  "layer": [
   {"data": {"name": "nam"}, "mark": {"type": "rect", "color": "#f3f3f3", "clip": false},
    "encoding": {"x": {"field": "t", "type": "temporal", "scale": {"type": "utc", "domain": [{"year": 2016, "month": 10, "date": 1, "utc": true}, {"year": 2018, "month": 3, "date": 1, "utc": true}]}, "axis": null}, "x2": {"field": "t2"},
     "y": {"datum": 34.9, "type": "quantitative", "scale": {"domain": [34.9, 39.25], "reverse": true, "nice": false, "zero": false}, "axis": null}, "y2": {"datum": 40.95}}},
   {"data": {"name": "namedges"}, "mark": {"type": "rule", "color": "#000", "strokeDash": [3, 2], "strokeWidth": 1, "clip": false},
    "encoding": {"x": {"field": "t", "type": "temporal", "scale": {"type": "utc", "domain": [{"year": 2016, "month": 10, "date": 1, "utc": true}, {"year": 2018, "month": 3, "date": 1, "utc": true}]},
      "axis": {"orient": "top", "labels": false, "title": null, "values": [{"year": 2016, "month": 10, "date": 1, "utc": true}, {"year": 2017, "month": 1, "date": 1, "utc": true}, {"year": 2017, "month": 4, "date": 1, "utc": true}, {"year": 2017, "month": 7, "date": 1, "utc": true}, {"year": 2017, "month": 10, "date": 1, "utc": true}, {"year": 2018, "month": 1, "date": 1, "utc": true}]}},
     "y": {"datum": 34.9, "type": "quantitative", "scale": {"domain": [34.9, 39.25], "reverse": true, "nice": false, "zero": false}, "axis": {"orient": "right", "labels": false, "title": null, "values": [35, 37, 39]}}, "y2": {"datum": 40.95}}},
   {"data": {"name": "events"}, "transform": [{"filter": "datum.panel === 'e'"}], "mark": {"type": "rule", "color": "#4a78e0", "strokeDash": [4, 3], "strokeWidth": 1},
    "encoding": {"x": {"field": "t", "type": "temporal", "scale": {"type": "utc", "domain": [{"year": 2016, "month": 10, "date": 1, "utc": true}, {"year": 2018, "month": 3, "date": 1, "utc": true}]}, "axis": null}}},
   {"data": {"name": "well1a"}, "mark": {"type": "line", "color": "#EDB120", "strokeWidth": 2, "clip": true},
    "encoding": {"x": {"field": "t", "type": "temporal", "scale": {"type": "utc", "domain": [{"year": 2016, "month": 10, "date": 1, "utc": true}, {"year": 2018, "month": 3, "date": 1, "utc": true}]},
      "axis": {"orient": "bottom", "labels": false, "title": null, "values": [{"year": 2016, "month": 10, "date": 1, "utc": true}, {"year": 2017, "month": 1, "date": 1, "utc": true}, {"year": 2017, "month": 4, "date": 1, "utc": true}, {"year": 2017, "month": 7, "date": 1, "utc": true}, {"year": 2017, "month": 10, "date": 1, "utc": true}, {"year": 2018, "month": 1, "date": 1, "utc": true}]}},
     "y": {"field": "d", "type": "quantitative", "scale": {"domain": [34.9, 39.25], "reverse": true, "nice": false, "zero": false}, "axis": {"orient": "left", "values": [35, 37, 39], "labelExpr": "toString(datum.value)", "title": ["Well 1A", "Depth", "(mbgs)"], "titleX": -80.5}}}},
   {"data": {"name": "labels"}, "transform": [{"filter": "datum.panel === 'e'"}], "mark": {"type": "text", "font": "Lato", "fontSize": 16, "color": "#111", "baseline": "middle", "clip": false},
    "encoding": {"x": {"field": "t", "type": "temporal", "scale": {"type": "utc", "domain": [{"year": 2016, "month": 10, "date": 1, "utc": true}, {"year": 2018, "month": 3, "date": 1, "utc": true}]}, "axis": null},
     "y": {"datum": 40.32, "type": "quantitative", "scale": {"domain": [34.9, 39.25], "reverse": true, "nice": false, "zero": false}, "axis": null}, "text": {"field": "label"}}},
   {"data": {"values": [{"t": "2016-10-04", "label": "(e)"}]}, "mark": {"type": "text", "font": "Liberation Sans", "fontSize": 18, "color": "#262626", "align": "left", "baseline": "middle"},
    "encoding": {"x": {"field": "t", "type": "temporal", "scale": {"type": "utc", "domain": [{"year": 2016, "month": 10, "date": 1, "utc": true}, {"year": 2018, "month": 3, "date": 1, "utc": true}]}, "axis": null},
     "y": {"datum": 35.85, "type": "quantitative", "scale": {"domain": [34.9, 39.25], "reverse": true, "nice": false, "zero": false}, "axis": null}, "text": {"field": "label"}}}
  ]
 },
 {
  "width": 1099, "height": 69,
  "layer": [
   {"data": {"name": "nam"}, "mark": {"type": "rect", "color": "#f3f3f3", "clip": false},
    "encoding": {"x": {"field": "t", "type": "temporal", "scale": {"type": "utc", "domain": [{"year": 2016, "month": 10, "date": 1, "utc": true}, {"year": 2018, "month": 3, "date": 1, "utc": true}]}, "axis": null}, "x2": {"field": "t2"},
     "y": {"datum": 1.45, "type": "quantitative", "scale": {"domain": [1.45, 5], "reverse": true, "nice": false, "zero": false}, "axis": null}, "y2": {"datum": 5}}},
   {"data": {"name": "namedges"}, "mark": {"type": "rule", "color": "#000", "strokeDash": [3, 2], "strokeWidth": 1, "clip": false},
    "encoding": {"x": {"field": "t", "type": "temporal", "scale": {"type": "utc", "domain": [{"year": 2016, "month": 10, "date": 1, "utc": true}, {"year": 2018, "month": 3, "date": 1, "utc": true}]},
      "axis": {"orient": "top", "labels": false, "title": null, "values": [{"year": 2016, "month": 10, "date": 1, "utc": true}, {"year": 2017, "month": 1, "date": 1, "utc": true}, {"year": 2017, "month": 4, "date": 1, "utc": true}, {"year": 2017, "month": 7, "date": 1, "utc": true}, {"year": 2017, "month": 10, "date": 1, "utc": true}, {"year": 2018, "month": 1, "date": 1, "utc": true}]}},
     "y": {"datum": 1.45, "type": "quantitative", "scale": {"domain": [1.45, 5], "reverse": true, "nice": false, "zero": false}, "axis": {"orient": "right", "labels": false, "title": null, "values": [2, 3.5, 5]}}, "y2": {"datum": 5}}},
   {"data": {"name": "events"}, "transform": [{"filter": "datum.panel === 'f'"}], "mark": {"type": "rule", "color": "#4a78e0", "strokeDash": [4, 3], "strokeWidth": 1},
    "encoding": {"x": {"field": "t", "type": "temporal", "scale": {"type": "utc", "domain": [{"year": 2016, "month": 10, "date": 1, "utc": true}, {"year": 2018, "month": 3, "date": 1, "utc": true}]}, "axis": null}}},
   {"data": {"name": "nam"}, "mark": {"type": "rule", "color": "#000", "strokeDash": [3, 2], "strokeWidth": 1, "clip": false},
    "encoding": {"x": {"field": "t", "type": "temporal", "scale": {"type": "utc", "domain": [{"year": 2016, "month": 10, "date": 1, "utc": true}, {"year": 2018, "month": 3, "date": 1, "utc": true}]}, "axis": null}, "x2": {"field": "t2"},
     "y": {"datum": 5, "type": "quantitative", "scale": {"domain": [1.45, 5], "reverse": true, "nice": false, "zero": false}, "axis": null}}},
   {"data": {"name": "well2d"}, "mark": {"type": "line", "color": "#A2142F", "strokeWidth": 2, "clip": true},
    "encoding": {"x": {"field": "t", "type": "temporal", "scale": {"type": "utc", "domain": [{"year": 2016, "month": 10, "date": 1, "utc": true}, {"year": 2018, "month": 3, "date": 1, "utc": true}]},
      "axis": {"orient": "bottom", "labels": true, "title": null, "labelPadding": 12, "labelExpr": "utcFormat(datum.value, '%b %Y')", "values": [{"year": 2016, "month": 10, "date": 1, "utc": true}, {"year": 2017, "month": 1, "date": 1, "utc": true}, {"year": 2017, "month": 4, "date": 1, "utc": true}, {"year": 2017, "month": 7, "date": 1, "utc": true}, {"year": 2017, "month": 10, "date": 1, "utc": true}, {"year": 2018, "month": 1, "date": 1, "utc": true}]}},
     "y": {"field": "d", "type": "quantitative", "scale": {"domain": [1.45, 5], "reverse": true, "nice": false, "zero": false}, "axis": {"orient": "left", "values": [2, 3.5, 5], "labelExpr": "toString(datum.value)", "title": ["Well 2D", "Depth", "(mbgs)"], "titleX": -80.5}}}},
   {"data": {"name": "labels"}, "transform": [{"filter": "datum.panel === 'f'"}], "mark": {"type": "text", "font": "Lato", "fontSize": 16, "color": "#111", "baseline": "middle", "clip": false},
    "encoding": {"x": {"field": "t", "type": "temporal", "scale": {"type": "utc", "domain": [{"year": 2016, "month": 10, "date": 1, "utc": true}, {"year": 2018, "month": 3, "date": 1, "utc": true}]}, "axis": null},
     "y": {"datum": 5.72, "type": "quantitative", "scale": {"domain": [1.45, 5], "reverse": true, "nice": false, "zero": false}, "axis": null}, "text": {"field": "label"}}},
   {"data": {"values": [{"t": "2017-04-04", "label": "4/4"}]}, "mark": {"type": "text", "font": "Lato", "fontSize": 16, "color": "#111", "baseline": "middle"},
    "encoding": {"x": {"field": "t", "type": "temporal", "scale": {"type": "utc", "domain": [{"year": 2016, "month": 10, "date": 1, "utc": true}, {"year": 2018, "month": 3, "date": 1, "utc": true}]}, "axis": null},
     "y": {"datum": 3.9, "type": "quantitative", "scale": {"domain": [1.45, 5], "reverse": true, "nice": false, "zero": false}, "axis": null}, "text": {"field": "label"}}},
   {"data": {"values": [{"t": "2016-10-04", "label": "(f)"}]}, "mark": {"type": "text", "font": "Liberation Sans", "fontSize": 18, "color": "#262626", "align": "left", "baseline": "middle"},
    "encoding": {"x": {"field": "t", "type": "temporal", "scale": {"type": "utc", "domain": [{"year": 2016, "month": 10, "date": 1, "utc": true}, {"year": 2018, "month": 3, "date": 1, "utc": true}]}, "axis": null},
     "y": {"datum": 2.22, "type": "quantitative", "scale": {"domain": [1.45, 5], "reverse": true, "nice": false, "zero": false}, "axis": null}, "text": {"field": "label"}}}
  ]
 }
]
}
